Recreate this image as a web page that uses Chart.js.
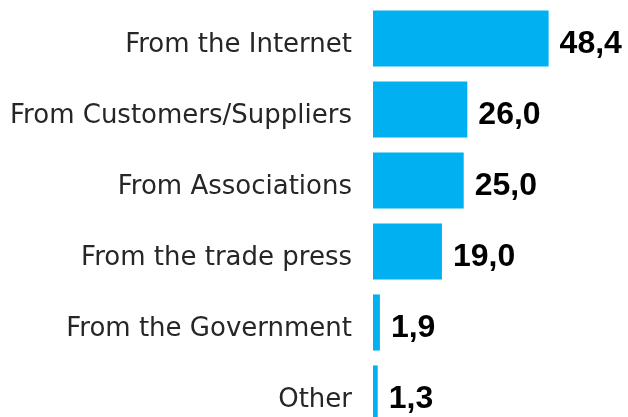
<!DOCTYPE html>
<html>
<head>
<meta charset="utf-8">
<script src="https://cdn.jsdelivr.net/npm/chart.js@4.4.0/dist/chart.umd.min.js"></script>
<style>
  html, body { margin: 0; padding: 0; background: #fff; overflow: hidden; }
  #wrap { position: relative; width: 628px; height: 431px; }
</style>
</head>
<body>
<div id="wrap"><canvas id="sourcesChart"></canvas></div>
<script>
// Where companies get their information (%)
var sources = ["From the Internet", "From Customers/Suppliers", "From Associations",
               "From the trade press", "From the Government", "Other"];
var shares = [48.4, 26.0, 25.0, 19.0, 1.9, 1.3];

// Values printed with a decimal comma, e.g. 48,4
function fmt(v) {
  return v.toFixed(1).replace(".", ",");
}

// Category names right-aligned left of the bars, values just past each bar end
var barText = {
  id: "barText",
  afterDatasetsDraw: function(chart) {
    var ctx = chart.ctx;
    var yScale = chart.scales.y;
    var meta = chart.getDatasetMeta(0);
    ctx.save();
    ctx.textBaseline = "alphabetic";

    ctx.font = "26px 'DejaVu Sans'";
    ctx.fillStyle = "#262626";
    ctx.textAlign = "right";
    sources.forEach(function(name, i) {
      ctx.fillText(name, yScale.right - 21, yScale.getPixelForTick(i) + 13);
    });

    ctx.font = "bold 32px 'Liberation Sans'";
    ctx.fillStyle = "#000";
    ctx.textAlign = "left";
    meta.data.forEach(function(bar, i) {
      ctx.fillText(fmt(shares[i]), bar.x + 11, bar.y + 14);
    });
    ctx.restore();
  }
};

var ctx = document.getElementById("sourcesChart").getContext("2d");
window.sourcesChart = new Chart(ctx, {
  type: "bar",
  data: {
    labels: sources,
    datasets: [{
      data: shares,
      backgroundColor: "#00B0F0",
      borderWidth: 0,
      categoryPercentage: 1,
      barPercentage: 0.79
    }]
  },
  options: {
    indexAxis: "y",
    responsive: true,
    maintainAspectRatio: false,
    animation: false,
    layout: { padding: { top: 3, bottom: 2, left: 0, right: 1 } },
    plugins: {
      legend: { display: false },
      tooltip: { enabled: false }
    },
    scales: {
      x: {
        display: false,
        min: 0,
        max: 70
      },
      y: {
        grid: { display: false },
        border: { display: false },
        ticks: { display: false },
        afterFit: function(scale) { scale.width = 373; }
      }
    }
  },
  plugins: [barText]
});
</script>
</body>
</html>
